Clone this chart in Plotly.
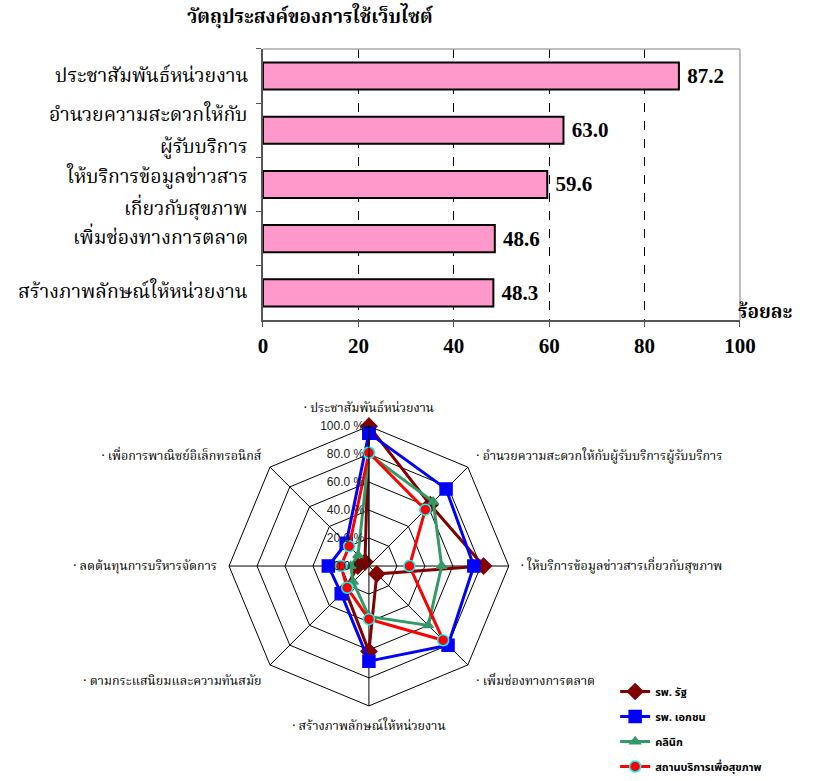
import plotly.graph_objects as go

# ---- bar chart data: purposes of using the website ----
purposes = [
    "ประชาสัมพันธ์หน่วยงาน",
    "อำนวยความสะดวกให้กับ<br>ผู้รับบริการ",
    "ให้บริการข้อมูลข่าวสาร<br>เกี่ยวกับสุขภาพ",
    "เพิ่มช่องทางการตลาด",
    "สร้างภาพลักษณ์ให้หน่วยงาน",
]
percent = [87.2, 63.0, 59.6, 48.6, 48.3]
x_ticks = [0, 20, 40, 60, 80, 100]

# ---- radar chart data: by type of facility ----
radar_axes = [
    "ประชาสัมพันธ์หน่วยงาน",
    "อำนวยความสะดวกให้กับผู้รับบริการผู้รับบริการ",
    "ให้บริการข้อมูลข่าวสารเกี่ยวกับสุขภาพ",
    "เพิ่มช่องทางการตลาด",
    "สร้างภาพลักษณ์ให้หน่วยงาน",
    "ตามกระแสนิยมและความทันสมัย",
    "ลดต้นทุนการบริหารจัดการ",
    "เพื่อการพาณิชย์อิเล็กทรอนิกส์",
]
gov_hospital = [100, 62, 82, 8, 61, 24, 8, 4]
private_hospital = [95, 78, 75, 80, 68, 28, 29, 23]
clinic = [80, 65, 52, 60, 36, 16, 13, 11]
health_service = [81, 57, 29, 75, 38, 22, 20, 20]
radial_ticks = [0, 20, 40, 60, 80, 100]

THAI_SERIF = "Noto Serif Thai, Noto Sans Thai, Loma, Garuda, serif"
THAI_SANS = "Noto Sans Thai, Loma, Garuda, Arial, Liberation Sans, sans-serif"
NUM_SERIF = "Liberation Serif, Times New Roman, serif"

# vertical pixel offsets of each line of the category labels (wide line spacing)
label_line_shifts = [[0], [15, -17], [7, -25], [0], [0]]

fig = go.Figure()

fig.add_trace(go.Bar(
    x=percent, y=purposes, orientation="h",
    marker=dict(color="#FF99CC", line=dict(color="black", width=2)),
    width=0.5,
    texttemplate=" %{x:.1f}", textposition="outside",
    textfont=dict(family=NUM_SERIF, size=21, color="black", weight="bold"),
    cliponaxis=False, showlegend=False, hoverinfo="skip",
    xaxis="x", yaxis="y",
))

theta = ["· " + a for a in radar_axes]
theta_closed = theta + theta[:1]

series = [
    ("รพ. รัฐ", gov_hospital, "#800000", "diamond", 12, "#800000"),
    ("รพ. เอกชน", private_hospital, "#0000FF", "square", 12, "#0000FF"),
    ("คลินิก", clinic, "#339966", "triangle-up", 9, "#339966"),
    ("สถานบริการเพื่อสุขภาพ", health_service, "#FF0000", "circle", 11, "#00FFFF"),
]
for i, (name, vals, color, sym, size, edge) in enumerate(series):
    fig.add_trace(go.Scatterpolar(
        r=vals + vals[:1], theta=theta_closed, name=name,
        mode="lines+markers",
        line=dict(color=color, width=3),
        marker=dict(symbol=sym, size=size, color=color, line=dict(color=edge, width=1.5)),
        legendgroup=f"g{i}",
        subplot="polar",
    ))

# category labels of the bar chart, one annotation per text line
annotations = []
for cat, shifts in zip(purposes, label_line_shifts):
    for line, dy in zip(cat.split("<br>"), shifts):
        annotations.append(dict(
            text=line, x=250 / 818, xref="paper", xanchor="right",
            y=cat, yref="y", yanchor="middle", yshift=dy, showarrow=False,
            font=dict(family=THAI_SERIF, size=19.5, color="black"),
        ))

annotations += [
    dict(text="<b>วัตถุประสงค์ของการใช้เว็บไซต์</b>", x=310 / 818, y=1 - 18 / 781,
         xref="paper", yref="paper", xanchor="center", yanchor="middle", showarrow=False,
         font=dict(family=THAI_SERIF, size=19, color="black")),
    dict(text="<b>ร้อยละ</b>", x=765 / 818, y=1 - 313 / 781,
         xref="paper", yref="paper", xanchor="center", yanchor="middle", showarrow=False,
         font=dict(family=THAI_SERIF, size=19, color="black")),
]

fig.update_layout(
    width=818, height=781,
    margin=dict(l=0, r=0, t=0, b=0),
    paper_bgcolor="white", plot_bgcolor="white",
    showlegend=True,
    xaxis=dict(
        domain=[0.3215, 0.9046], range=[0, 100],
        tickvals=x_ticks, ticks="outside", ticklen=5, tickcolor="#555",
        showline=True, linecolor="#555", linewidth=2,
        showgrid=True, gridcolor="black", griddash="dash", gridwidth=1,
        zeroline=False,
        tickfont=dict(family=NUM_SERIF, size=21, color="black", weight="bold"),
        ticklabelstandoff=1,
        anchor="y", automargin=False,
    ),
    yaxis=dict(
        domain=[0.5903, 0.9373],
        autorange="reversed",
        ticks="outside", ticklen=5, tickcolor="#555", tickson="boundaries",
        showline=True, linecolor="#555", linewidth=2,
        showgrid=False, showticklabels=False,
        anchor="x", automargin=False,
    ),
    polar=dict(
        domain=dict(x=[0.28, 0.622], y=[0.096, 0.4545]),
        gridshape="linear",
        bgcolor="white",
        radialaxis=dict(
            range=[0, 100], tickvals=radial_ticks,
            ticktext=[f"{v:.1f} %" for v in radial_ticks],
            angle=90, tickangle=90, side="counterclockwise",
            showline=True, linecolor="black", linewidth=1,
            gridcolor="black", gridwidth=1, ticks="",
            layer="above traces",
            tickfont=dict(family="Liberation Sans, Arial, sans-serif", size=12, color="#222"),
        ),
        angularaxis=dict(
            direction="clockwise", rotation=90,
            linecolor="black", linewidth=1,
            gridcolor="black", gridwidth=1,
            ticks="outside", ticklen=9, tickcolor="rgba(0,0,0,0)",
            tickfont=dict(family=THAI_SERIF, size=12.5, color="black"),
        ),
    ),
    legend=dict(
        x=0.752, y=0.0, xanchor="left", yanchor="bottom",
        traceorder="grouped", tracegroupgap=6,
        font=dict(family=THAI_SANS, size=11, color="black", weight="bold"),
        bgcolor="rgba(0,0,0,0)",
    ),
    annotations=annotations,
    shapes=[
        dict(type="line", xref="x domain", yref="y domain", x0=0, x1=1, y0=1, y1=1,
             line=dict(color="#AAAAAA", width=1.5)),
        dict(type="line", xref="x domain", yref="y domain", x0=1, x1=1, y0=0, y1=1,
             line=dict(color="#AAAAAA", width=1.5)),
    ],
)

fig.write_html("out.html")
